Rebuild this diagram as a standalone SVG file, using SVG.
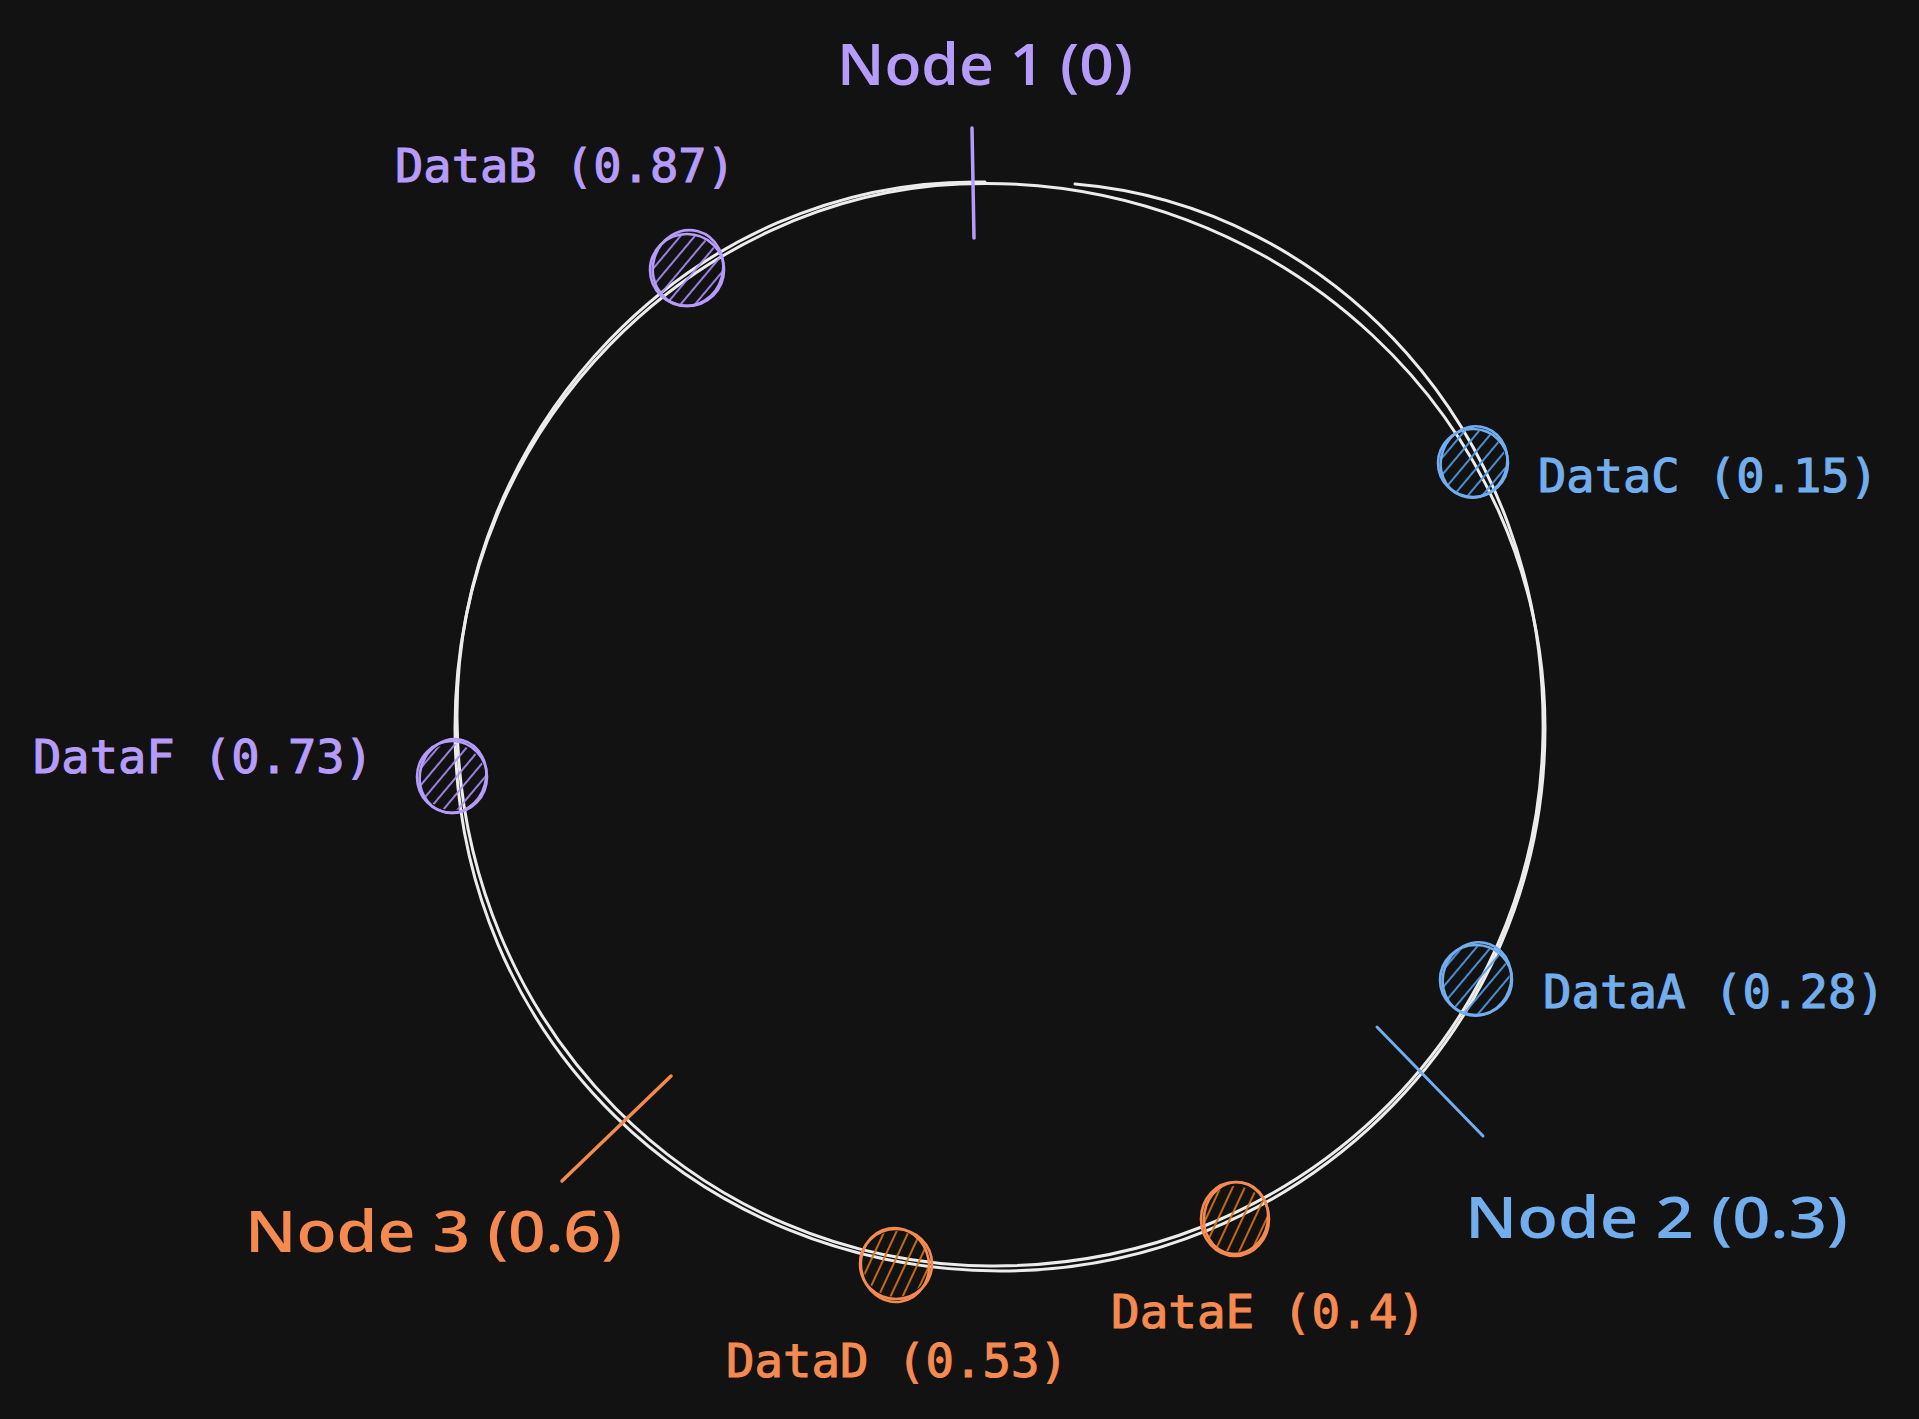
<svg xmlns="http://www.w3.org/2000/svg" width="1919" height="1419" viewBox="0 0 1919 1419">
<style>
.ring{fill:none;stroke:#ececec;stroke-width:3;stroke-linecap:round}
.data{font-family:"DejaVu Sans Mono","Liberation Mono",monospace;font-size:46px;stroke-width:1.1}
.hand{font-family:"Open Sans","Liberation Sans",sans-serif;font-size:58px;font-weight:600}
.p{fill:#b69cfa;stroke:#b69cfa}.b{fill:#72aeee;stroke:#72aeee}.o{fill:#f58a50;stroke:#f58a50}
.hand.p,.hand.b,.hand.o{stroke:none}
.sp{stroke:#b69cfa}.sb{stroke:#72aeee}.so{stroke:#f58a50}
.out{fill:none;stroke-width:2.6}
.tick{stroke-width:3.5;stroke-linecap:round;fill:none}
</style>
<defs>
<pattern id="hp" width="11" height="11" patternUnits="userSpaceOnUse" patternTransform="rotate(40)"><line x1="2" y1="0" x2="2" y2="11" stroke="#a88cf5" stroke-width="1.8"/></pattern>
<pattern id="hb" width="11" height="11" patternUnits="userSpaceOnUse" patternTransform="rotate(40)"><line x1="2" y1="0" x2="2" y2="11" stroke="#4f9be6" stroke-width="1.8"/></pattern>
<pattern id="ho" width="11" height="11" patternUnits="userSpaceOnUse" patternTransform="rotate(25)"><line x1="2" y1="0" x2="2" y2="11" stroke="#d9730d" stroke-width="1.8"/></pattern>
</defs>
<rect width="1919" height="1419" fill="#121212"/>
<g id="ring">
<path class="ring" d="M960,184 C1280,170 1545,420 1545,728 C1545,1040 1290,1272 1000,1271 C700,1270 455,1040 455,728 C455,420 700,195 960,184"/>
<path class="ring" d="M1075,184 C1330,205 1548,430 1543,735 C1538,1040 1290,1268 990,1266 C700,1264 459,1030 457,718 C455,430 690,176 985,182"/>
</g>
<g id="connectors">
<line id="tick-node1" class="tick sp" x1="972" y1="128" x2="974" y2="238"/>
<line id="tick-node2" class="tick sb" x1="1377" y1="1027" x2="1483" y2="1136" style="stroke-width:3"/>
<line id="tick-node3" class="tick so" x1="562" y1="1181" x2="671" y2="1076"/>
</g>
<g id="node1"><text class="hand p" x="837" y="85" textLength="296" lengthAdjust="spacingAndGlyphs">Node 1 (0)</text></g>
<g id="node2"><text class="hand b" x="1465" y="1238" textLength="383" lengthAdjust="spacingAndGlyphs">Node 2 (0.3)</text></g>
<g id="node3"><text class="hand o" x="245" y="1252" textLength="377" lengthAdjust="spacingAndGlyphs">Node 3 (0.6)</text></g>
<g id="dataB">
<circle cx="687" cy="270" r="35" fill="url(#hp)"/>
<ellipse class="out sp" cx="687" cy="270" rx="37" ry="36"/>
<ellipse class="out sp" cx="688" cy="268" rx="35" ry="38" transform="rotate(15 688 268)"/>
<text class="data p" x="395" y="182" textLength="340" lengthAdjust="spacingAndGlyphs">DataB (0.87)</text>
</g>
<g id="dataC">
<circle cx="1473" cy="463" r="33" fill="url(#hb)"/>
<ellipse class="out sb" cx="1473" cy="463" rx="35" ry="34"/>
<ellipse class="out sb" cx="1474" cy="462" rx="33" ry="36" transform="rotate(20 1474 462)"/>
<text class="data b" x="1538" y="492" textLength="340" lengthAdjust="spacingAndGlyphs">DataC (0.15)</text>
</g>
<g id="dataA">
<circle cx="1476" cy="980" r="34" fill="url(#hb)"/>
<ellipse class="out sb" cx="1476" cy="980" rx="36" ry="35"/>
<ellipse class="out sb" cx="1477" cy="979" rx="34" ry="37" transform="rotate(20 1477 979)"/>
<text class="data b" x="1543" y="1008" textLength="342" lengthAdjust="spacingAndGlyphs">DataA (0.28)</text>
</g>
<g id="dataE">
<circle cx="1235" cy="1219" r="33" fill="url(#ho)"/>
<ellipse class="out so" cx="1235" cy="1219" rx="34" ry="37"/>
<ellipse class="out so" cx="1236" cy="1218" rx="32" ry="36" transform="rotate(10 1236 1218)"/>
<text class="data o" x="1111" y="1328" textLength="315" lengthAdjust="spacingAndGlyphs">DataE (0.4)</text>
</g>
<g id="dataD">
<circle cx="896" cy="1264" r="33" fill="url(#ho)"/>
<ellipse class="out so" cx="896" cy="1264" rx="36" ry="35"/>
<ellipse class="out so" cx="895" cy="1265" rx="34" ry="37" transform="rotate(-10 895 1265)"/>
<text class="data o" x="726" y="1377" textLength="342" lengthAdjust="spacingAndGlyphs">DataD (0.53)</text>
</g>
<g id="dataF">
<circle cx="452" cy="777" r="33" fill="url(#hp)"/>
<ellipse class="out sp" cx="452" cy="777" rx="35" ry="36"/>
<ellipse class="out sp" cx="453" cy="776" rx="33" ry="37" transform="rotate(15 453 776)"/>
<text class="data p" x="33" y="773" textLength="340" lengthAdjust="spacingAndGlyphs">DataF (0.73)</text>
</g>
</svg>
